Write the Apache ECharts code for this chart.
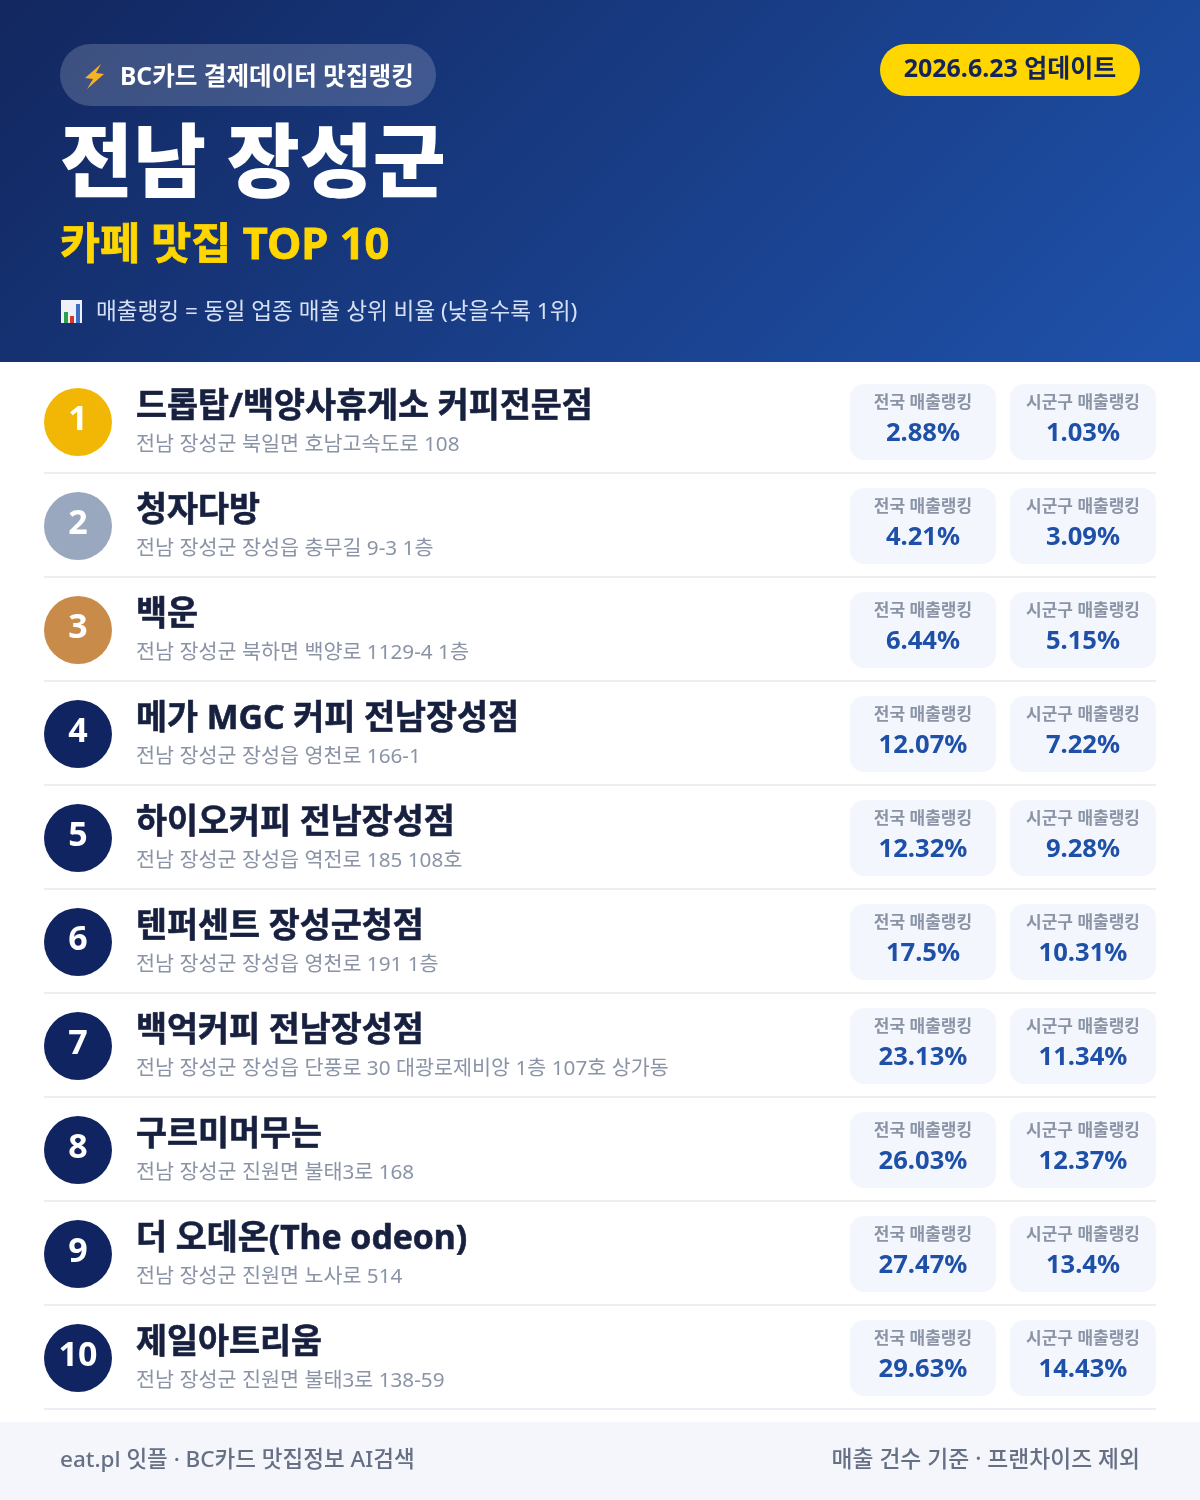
<!DOCTYPE html>
<html>
<head>
<meta charset="utf-8">
<title>전남 장성군 카페 맛집 TOP 10</title>
<style>
html,body{margin:0;padding:0;background:#fff}
#main{width:1200px;height:1500px}
</style>
<script src="https://cdn.jsdelivr.net/npm/echarts@6/dist/echarts.min.js"></script>
</head>
<body>
<div id="main"></div>
<script>
var ranks = ['1', '2', '3', '4', '5', '6', '7', '8', '9', '10'];
var names = ['드롭탑/백양사휴게소 커피전문점', '청자다방', '백운', '메가 MGC 커피 전남장성점', '하이오커피 전남장성점',
	'텐퍼센트 장성군청점', '백억커피 전남장성점', '구르미머무는', '더 오데온(The odeon)', '제일아트리움'];
var addresses = ['전남 장성군 북일면 호남고속도로 108', '전남 장성군 장성읍 충무길 9-3 1층', '전남 장성군 북하면 백양로 1129-4 1층',
	'전남 장성군 장성읍 영천로 166-1', '전남 장성군 장성읍 역전로 185 108호', '전남 장성군 장성읍 영천로 191 1층',
	'전남 장성군 장성읍 단풍로 30 대광로제비앙 1층 107호 상가동', '전남 장성군 진원면 불태3로 168',
	'전남 장성군 진원면 노사로 514', '전남 장성군 진원면 불태3로 138-59'];
var nationalRank = ['2.88', '4.21', '6.44', '12.07', '12.32', '17.5', '23.13', '26.03', '27.47', '29.63'];
var districtRank = ['1.03', '3.09', '5.15', '7.22', '9.28', '10.31', '11.34', '12.37', '13.4', '14.43'];

var FONT = '"Noto Sans", "Noto Sans CJK KR", sans-serif';
var badgeColors = ['#f2b705', '#9aa8bf', '#c98b4a'];
var navy = '#0f2460';

var chart = echarts.init(document.getElementById('main'), null, { renderer: 'canvas' });

function txt(x, y, text, size, weight, color, align, stroke) {
	var style = {
		text: text,
		fontFamily: FONT,
		fontSize: size,
		fontWeight: weight,
		fill: color,
		align: align || 'left',
		verticalAlign: 'middle'
	};
	// 글자 폭은 그대로 두고 조금 더 굵게
	if (stroke) {
		style.stroke = color;
		style.lineWidth = stroke;
	}
	return { type: 'text', x: x, y: y, silent: true, style: style };
}

// 한 줄 = 순위 원 + 상호명 + 주소 + 구분선
function renderRow(params, api) {
	var i = api.value(1);
	var cy = api.coord([0, i])[1];
	var band = api.size([0, 1])[1];
	return {
		type: 'group',
		children: [
			{ type: 'rect', shape: { x: 44, y: cy + band / 2 - 2, width: 1112, height: 2 }, style: { fill: '#eceef2' } },
			{ type: 'circle', shape: { cx: 78, cy: cy, r: 34 }, style: { fill: badgeColors[i] || navy } },
			txt(78, cy - 2, ranks[i], 34, 700, '#fff', 'center'),
			txt(136, cy - 15, names[i], 33.7, 700, '#17213f', 'left', 0.6),
			txt(136, cy + 23, addresses[i], 20.7, 400, '#8a94a6')
		]
	};
}

// 매출랭킹 카드
function renderCard(x, label) {
	return function (params, api) {
		var cy = api.coord([0, api.value(1)])[1];
		return {
			type: 'group',
			children: [
				{ type: 'rect', shape: { x: x, y: cy - 38, width: 146, height: 76, r: 14 }, style: { fill: '#f3f6fc' } },
				txt(x + 73, cy - 19, label, 17, 600, '#8a94a6', 'center'),
				txt(x + 73, cy + 12, api.value(0) + '%', 25.6, 700, '#1e50a8', 'center')
			]
		};
	};
}

var rowData = ranks.map(function (r, i) { return [0, i]; });
var nationalData = nationalRank.map(function (v, i) { return [v, i]; });
var districtData = districtRank.map(function (v, i) { return [v, i]; });

var option = {
	animation: false,
	grid: { left: 0, right: 0, top: 370, height: 1040 },
	xAxis: { type: 'value', min: 0, max: 100, show: false },
	yAxis: { type: 'category', data: ranks, inverse: true, show: false },
	graphic: [
		{
			type: 'rect',
			silent: true,
			shape: { x: 0, y: 0, width: 1200, height: 362 },
			style: {
				// CSS 135deg 와 같은 방향
				fill: new echarts.graphic.LinearGradient(210, -209, 990, 571, [
					{ offset: 0, color: '#12275f' },
					{ offset: 1, color: '#1f52ab' }
				], true)
			}
		},
		{ type: 'rect', silent: true, shape: { x: 60, y: 44, width: 376, height: 62, r: 31 }, style: { fill: 'rgba(255,255,255,0.18)' } },
		// 번개 아이콘
		{ type: 'polygon', silent: true, shape: { points: [[101, 64], [85, 78], [93, 79], [87, 89], [104, 74], [96, 73]] }, style: { fill: '#f5b323' } },
		txt(120, 78, 'BC카드 결제데이터 맛집랭킹', 24.6, 700, '#fff'),
		txt(60, 167, '전남 장성군', 79.4, 900, '#fff'),
		txt(60, 247, '카페 맛집 TOP 10', 43.5, 700, '#ffd600', 'left', 0.8),
		// 차트 아이콘
		{ type: 'rect', silent: true, shape: { x: 61, y: 300, width: 21, height: 23 }, style: { fill: '#eef2f8' } },
		{ type: 'rect', silent: true, shape: { x: 64, y: 312, width: 4, height: 11 }, style: { fill: '#2e9e4f' } },
		{ type: 'rect', silent: true, shape: { x: 70, y: 316, width: 4, height: 7 }, style: { fill: '#d9352b' } },
		{ type: 'rect', silent: true, shape: { x: 76, y: 304, width: 4, height: 19 }, style: { fill: '#3a6fc4' } },
		txt(96, 313, '매출랭킹 = 동일 업종 매출 상위 비율 (낮을수록 1위)', 22.6, 400, '#d5e0f5'),
		{ type: 'rect', silent: true, shape: { x: 880, y: 44, width: 260, height: 52, r: 26 }, style: { fill: '#ffd600' } },
		txt(1010, 70, '2026.6.23 업데이트', 25, 700, '#12245a', 'center'),
		{ type: 'rect', silent: true, shape: { x: 0, y: 1422, width: 1200, height: 78 }, style: { fill: '#f4f6fb' } },
		txt(60, 1461, 'eat.pl 잇플 · BC카드 맛집정보 AI검색', 22.5, 500, '#667085'),
		txt(1140, 1461, '매출 건수 기준 · 프랜차이즈 제외', 22.8, 500, '#667085', 'right')
	],
	series: [
		{ type: 'custom', name: 'rows', coordinateSystem: 'cartesian2d', encode: { x: 0, y: 1 }, data: rowData, renderItem: renderRow, silent: true },
		{ type: 'custom', name: '전국 매출랭킹', coordinateSystem: 'cartesian2d', encode: { x: 0, y: 1 }, data: nationalData, renderItem: renderCard(850, '전국 매출랭킹'), silent: true, clip: false },
		{ type: 'custom', name: '시군구 매출랭킹', coordinateSystem: 'cartesian2d', encode: { x: 0, y: 1 }, data: districtData, renderItem: renderCard(1010, '시군구 매출랭킹'), silent: true, clip: false }
	]
};

chart.setOption(option);
</script>
</body>
</html>
